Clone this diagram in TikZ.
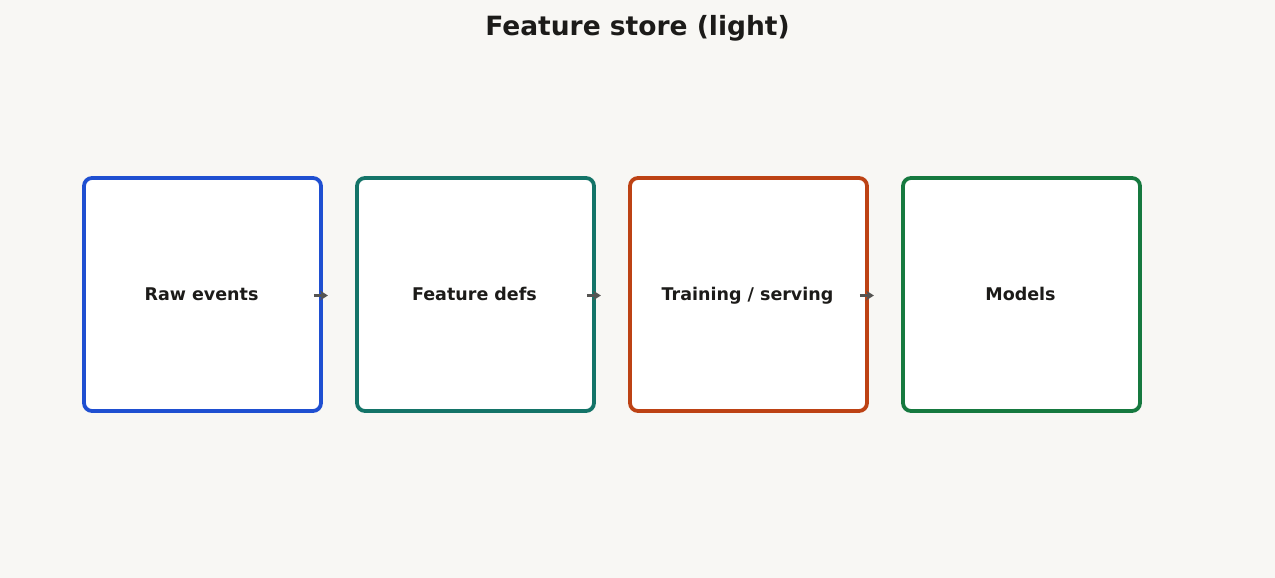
\documentclass[tikz,border=0pt]{standalone}
\usepackage{fontspec}
\setmainfont{DejaVu Sans}
\usetikzlibrary{arrows.meta}
\definecolor{bg}{HTML}{F8F7F4}
\definecolor{ink}{HTML}{1C1B19}
\definecolor{cA}{HTML}{1F4FD1}
\definecolor{cB}{HTML}{147468}
\definecolor{cC}{HTML}{BD4214}
\definecolor{cD}{HTML}{16793F}
\begin{document}
\begin{tikzpicture}[x=1pt,y=1pt,
  box/.style={draw=#1,line width=3.8pt,rounded corners=8pt,fill=white,minimum width=237pt,minimum height=233pt,inner sep=0pt,text=ink},
  lbl/.style={font=\bfseries\fontsize{17.5}{21}\selectfont,text=ink,anchor=base},
  arr/.style={draw=ink!75,line width=3pt,-{Stealth[length=8pt,width=10pt]}}]
\fill[bg] (0,0) rectangle (1275,578);
\useasboundingbox (0,0) rectangle (1275,578);
\node[font=\bfseries\fontsize{26.5}{30}\selectfont,text=ink,anchor=base] (t) at (637.5,542) {Feature store (light)};
\node[box=cA] (a) at (202.5,283.5) {};
\node[box=cB] (b) at (475.5,283.5) {};
\node[box=cC] (c) at (748.5,283.5) {};
\node[box=cD] (d) at (1021.5,283.5) {};
\node[lbl] (la) at (201.5,277.5) {Raw events};
\node[lbl] (lb) at (474.5,277.5) {Feature defs};
\node[lbl] (lc) at (747.5,277.5) {Training / serving};
\node[lbl] (ld) at (1020.5,277.5) {Models};
\foreach \p/\q in {a/b,b/c,c/d}{
  \coordinate (s\p) at ([xshift=-9pt,yshift=-1pt]\p.east);
  \coordinate (e\p) at ([xshift=5pt,yshift=-1pt]\p.east);
  \draw[arr] (s\p) -- (e\p);
}
\end{tikzpicture}
\end{document}
